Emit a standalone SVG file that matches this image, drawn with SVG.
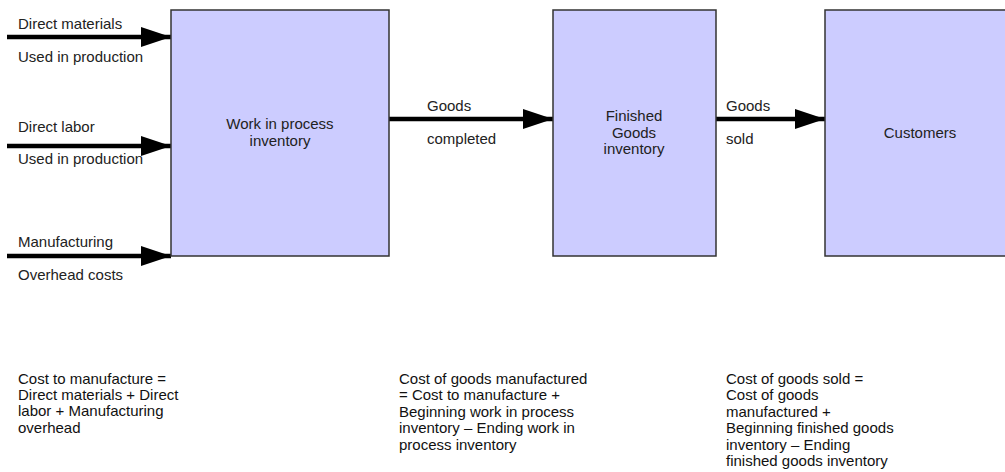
<svg xmlns="http://www.w3.org/2000/svg" width="1005" height="472" viewBox="0 0 1005 472">
<style>
.box{fill:#ccccff;stroke:#333;stroke-width:1.5}
.t{font-family:"Liberation Sans",Arial,sans-serif;font-size:15px;fill:#222}
.c{text-anchor:middle}
.b{font-family:"Liberation Sans",Arial,sans-serif;font-size:15px;fill:#111}
.a{stroke:#000;stroke-width:4.5;fill:none;marker-end:url(#ah)}
</style>
<defs>
<marker id="ah" markerUnits="userSpaceOnUse" markerWidth="32" markerHeight="22" refX="30" refY="10" orient="auto">
<path d="M0,0 L30,10 L0,20 Z" fill="#000"/>
</marker>
</defs>
<rect width="1005" height="472" fill="#fff"/>
<g id="connectors">
<line class="a" x1="7" y1="37" x2="171" y2="37"/>
<line class="a" x1="7" y1="146" x2="171" y2="146"/>
<line class="a" x1="7" y1="256" x2="171" y2="256"/>
<line class="a" x1="389" y1="119" x2="553" y2="119"/>
<line class="a" x1="716" y1="119" x2="825" y2="119"/>
<text class="t" x="18" y="29">Direct materials</text>
<text class="t" x="18" y="62">Used in production</text>
<text class="t" x="18" y="132">Direct labor</text>
<text class="t" x="18" y="164">Used in production</text>
<text class="t" x="18" y="247">Manufacturing</text>
<text class="t" x="18" y="280">Overhead costs</text>
<text class="t" x="427" y="111">Goods</text>
<text class="t" x="427" y="144">completed</text>
<text class="t" x="726" y="111">Goods</text>
<text class="t" x="726" y="144">sold</text>
</g>
<g id="wip">
<rect class="box" x="171" y="10" width="218" height="246"/>
<text class="t c" x="280" y="129">Work in process</text>
<text class="t c" x="280" y="146">inventory</text>
</g>
<g id="finished">
<rect class="box" x="553" y="10" width="163" height="246"/>
<text class="t c" x="634" y="121">Finished</text>
<text class="t c" x="634" y="138">Goods</text>
<text class="t c" x="634" y="154">inventory</text>
</g>
<g id="customers">
<rect class="box" x="825" y="10" width="190" height="246"/>
<text class="t c" x="920" y="138">Customers</text>
</g>
<g id="notes">
<text class="b" x="18" y="384">Cost to manufacture =</text>
<text class="b" x="18" y="400">Direct materials + Direct</text>
<text class="b" x="18" y="416">labor + Manufacturing</text>
<text class="b" x="18" y="433">overhead</text>
<text class="b" x="399" y="384">Cost of goods manufactured</text>
<text class="b" x="399" y="400">= Cost to manufacture +</text>
<text class="b" x="399" y="417">Beginning work in process</text>
<text class="b" x="399" y="433">inventory – Ending work in</text>
<text class="b" x="399" y="450">process inventory</text>
<text class="b" x="726" y="384">Cost of goods sold =</text>
<text class="b" x="726" y="400">Cost of goods</text>
<text class="b" x="726" y="417">manufactured +</text>
<text class="b" x="726" y="433">Beginning finished goods</text>
<text class="b" x="726" y="450">inventory – Ending</text>
<text class="b" x="726" y="466">finished goods inventory</text>
</g>
</svg>
